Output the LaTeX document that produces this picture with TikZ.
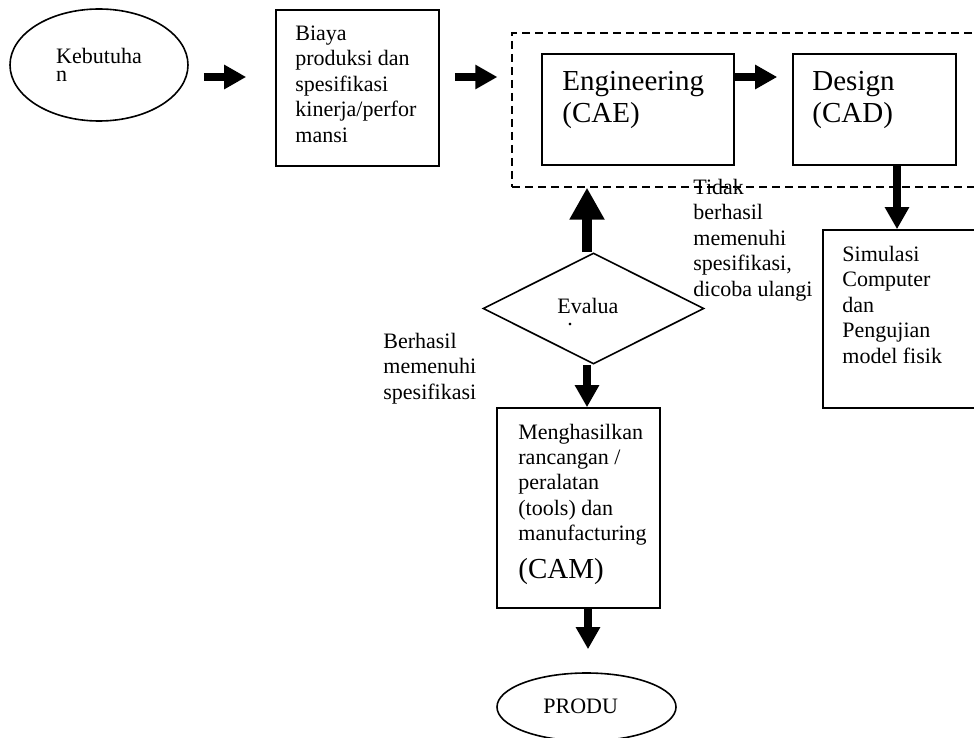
\documentclass[tikz,border=0pt]{standalone}
\usepackage{fontspec}
\setmainfont{Liberation Serif}
\usetikzlibrary{arrows.meta,shapes.geometric}

\begin{document}
\begin{tikzpicture}[%
        x=0.5pt, y=-0.5pt,
        basic/.style={draw, line width=0.8pt, inner sep=0pt},
        box/.style={basic, rectangle},
        oval/.style={basic, ellipse, font=\fontsize{11}{9}\selectfont, align=left},
        group/.style={draw, line width=0.6pt, dash pattern=on 4pt off 2.5pt, inner sep=0pt},
        txt/.style={anchor=base west, inner sep=0pt, align=left, font=\fontsize{11}{12.7}\selectfont},
        bigtxt/.style={txt, font=\fontsize{14.5}{16.5}\selectfont},
        fat/.style={line width=4pt, -{Triangle[width=11.5pt,length=11pt]}},
        fatter/.style={line width=5pt, -{Triangle[width=16.5pt,length=16pt]}}
        ]
        \path[use as bounding box] (0,0) rectangle (974,738);
        \clip (0,0) rectangle (974,738);
        % shapes
        \node[oval, minimum width=89pt, minimum height=56pt] (keb) at (99,65) {Kebutuha\\n};
        \node[box, minimum width=81.5pt, minimum height=78pt] (biaya) at (357.5,88) {};
        \node[group, minimum width=239pt, minimum height=77pt] (grp) at (751,110) {};
        \node[box, minimum width=96pt, minimum height=55.5pt] (eng) at (638,109.5) {};
        \node[box, minimum width=81.5pt, minimum height=55.5pt] (des) at (874.5,109.5) {};
        \node[box, minimum width=83.5pt, minimum height=89pt] (sim) at (906.5,319) {};
        \node[basic, diamond, minimum width=110.5pt, minimum height=55.5pt] (eval) at (593.5,308.5) {};
        \node[box, minimum width=81.5pt, minimum height=100pt] (cam) at (578.5,508) {};
        \node[oval, minimum width=89.5pt, minimum height=34pt] (produ) at (586.5,707) {};
        % texts (placed by the baseline of their last line)
        \node[txt] (biayatxt) at (295,142) {Biaya\\produksi dan\\spesifikasi\\kinerja/perfor\\mansi};
        \node[bigtxt] (engtxt) at (562,123) {Engineering\\(CAE)};
        \node[bigtxt] (destxt) at (812,123) {Design\\(CAD)};
        \node[txt] (simtxt) at (842,363) {Simulasi\\Computer\\dan\\Pengujian\\model fisik};
        \node[txt] (evaltxt) at (557,313) {Evalua};
        \node[txt] (evaldot) at (567,325) {.};
        \node[txt] (tidak) at (693,296) {Tidak\\berhasil\\memenuhi\\spesifikasi,\\dicoba ulangi};
        \node[txt] (berhasil) at (383,399) {Berhasil\\memenuhi\\spesifikasi};
        \node[txt] (camtxt) at (518,578) {Menghasilkan\\rancangan /\\peralatan\\(tools) dan\\manufacturing\\[6pt]{\fontsize{14.5}{16.5}\selectfont (CAM)}};
        \node[txt] (produtxt) at (543,713) {PRODU};
        % arrows
        \draw[fat] ([shift={(15,12)}]keb.east) -- ([shift={(-29,-11)}]biaya.west);
        \draw[fat] ([shift={(15,-11)}]biaya.east) -- ([shift={(-14,-33)}]grp.west);
        \draw[fat] ([shift={(0,-32.5)}]eng.east) -- ([shift={(-15,-32.5)}]des.west);
        \draw[fat] ([shift={(22.5,0)}]des.south) -- ([shift={(22.5,0)}]des.south |- sim.north);
        \draw[fatter] ([shift={(-6.5,0)}]eval.north) -- ([shift={(-6.5,0)}]eval.north |- grp.south);
        \draw[fat] ([shift={(-6.5,0)}]eval.south) -- ([shift={(-6.5,0)}]eval.south |- cam.north);
        \draw[fat] ([shift={(9.5,0)}]cam.south) -- ([shift={(1.5,-23)}]produ.north);
\end{tikzpicture}
\end{document}
